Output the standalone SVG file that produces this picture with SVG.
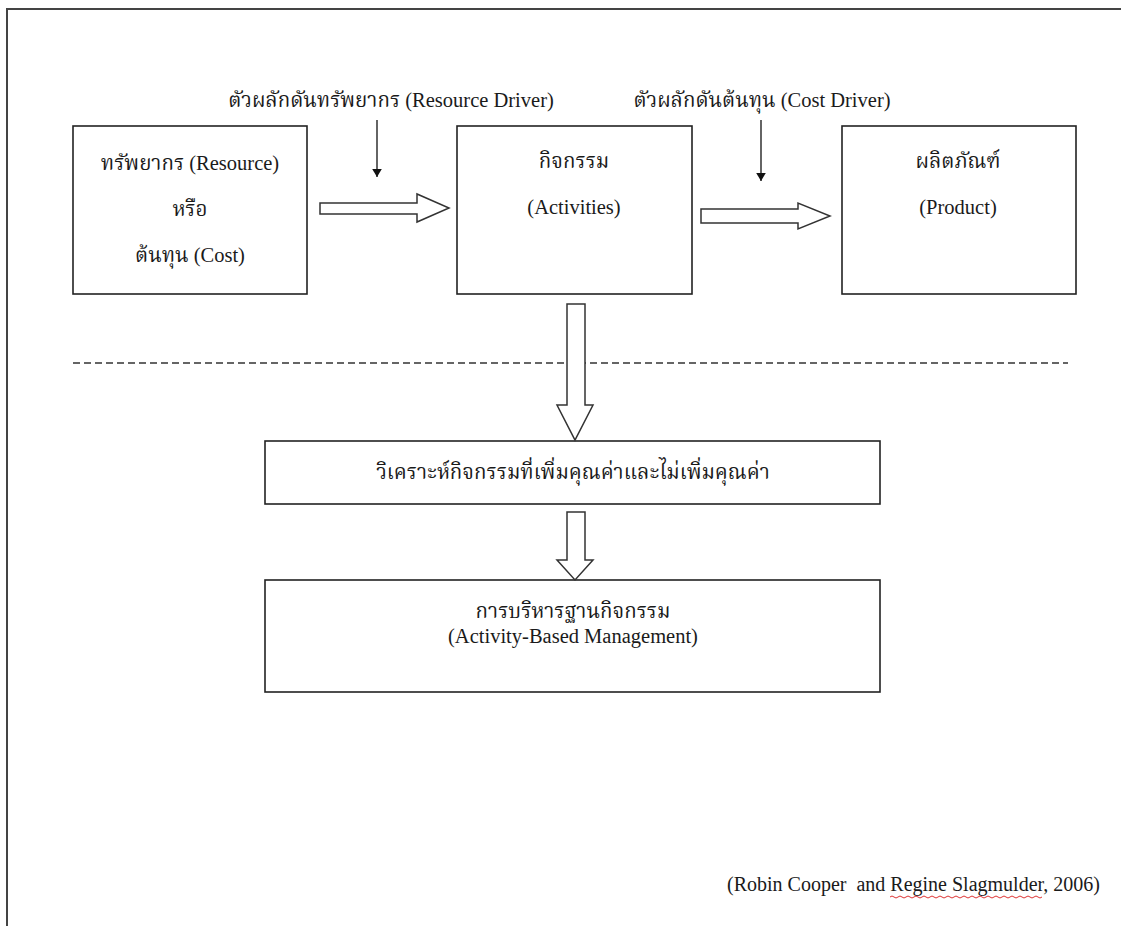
<svg xmlns="http://www.w3.org/2000/svg" width="1121" height="926" viewBox="0 0 1121 926">
  <style>
    .frame { fill: none; stroke: #444; stroke-width: 2; }
    .box { fill: #fff; stroke: #222; stroke-width: 1.6; }
    .block { fill: #fff; stroke: #333; stroke-width: 1.5; stroke-linejoin: miter; }
    .thin { stroke: #111; stroke-width: 1.3; fill: none; }
    .dash { stroke: #333; stroke-width: 1.6; stroke-dasharray: 7 4; fill: none; }
    text { font-family: "Liberation Serif", "Noto Serif Thai", "Noto Sans Thai", "Tlwg Typo", "Garuda", serif; fill: #1a1a1a; text-anchor: middle; font-size: 20.5px; }
    .cite { font-size: 20px; text-anchor: start; }
  </style>
  <defs>
    <marker id="head" viewBox="0 0 10 12" refX="10" refY="6" markerWidth="8" markerHeight="10" markerUnits="userSpaceOnUse" orient="auto">
      <path d="M0,0 L10,6 L0,12 Z" fill="#111"/>
    </marker>
  </defs>

  <!-- page frame (top and left edges only) -->
  <path class="frame" d="M7,926 V9 H1121"/>

  <!-- driver labels -->
  <g id="resource-driver">
    <text x="391" y="107">ตัวผลักดันทรัพยากร (Resource Driver)</text>
  </g>
  <g id="cost-driver">
    <text x="762" y="107">ตัวผลักดันต้นทุน (Cost Driver)</text>
  </g>

  <g id="resource">
    <rect class="box" x="73" y="126" width="234" height="168"/>
    <text x="190" y="170">ทรัพยากร (Resource)</text>
    <text x="190" y="216">หรือ</text>
    <text x="190" y="262">ต้นทุน (Cost)</text>
  </g>

  <g id="activities">
    <rect class="box" x="457" y="126" width="235" height="168"/>
    <text x="574" y="168">กิจกรรม</text>
    <text x="574" y="214">(Activities)</text>
  </g>

  <g id="product">
    <rect class="box" x="842" y="126" width="234" height="168"/>
    <text x="958" y="168">ผลิตภัณฑ์</text>
    <text x="958" y="214">(Product)</text>
  </g>

  <g id="analysis">
    <rect class="box" x="265" y="441" width="615" height="63"/>
    <text x="573" y="479">วิเคราะห์กิจกรรมที่เพิ่มคุณค่าและไม่เพิ่มคุณค่า</text>
  </g>

  <g id="abm">
    <rect class="box" x="265" y="580" width="615" height="112"/>
    <text x="573" y="618">การบริหารฐานกิจกรรม</text>
    <text x="573" y="643">(Activity-Based Management)</text>
  </g>

  <g id="citation">
    <text class="cite" x="727" y="891">(Robin Cooper&#160; and Regine Slagmulder, 2006)</text>
    <!-- spell-check squiggle under the author name -->
    <path d="M890,897 q2,-2 4,0 t4,0 t4,0 t4,0 t4,0 t4,0 t4,0 t4,0 t4,0 t4,0 t4,0 t4,0 t4,0 t4,0 t4,0 t4,0 t4,0 t4,0 t4,0 t4,0 t4,0 t4,0 t4,0 t4,0 t4,0 t4,0 t4,0 t4,0 t4,0 t4,0 t4,0 t4,0 t4,0 t4,0 t4,0 t4,0 t4,0 t4,0" fill="none" stroke="#d33" stroke-width="1"/>
  </g>

  <!-- dashed separator -->
  <line class="dash" x1="73" y1="363" x2="1068" y2="363"/>

  <g id="connectors">
    <!-- driver arrows -->
    <line class="thin" x1="377" y1="120" x2="377" y2="177" marker-end="url(#head)"/>
    <line class="thin" x1="761" y1="120" x2="761" y2="181" marker-end="url(#head)"/>
    <!-- block arrows -->
    <path class="block" d="M320,203 H417 V194 L449,208 L417,222 V214 H320 Z"/>
    <path class="block" d="M701,209 H798 V203 L830,216 L798,229 V223 H701 Z"/>
    <path class="block" d="M567,304 H585 V405 H593 L575,440 L557,405 H567 Z"/>
    <path class="block" d="M567,512 H585 V560 H593 L575,580 L557,560 H567 Z"/>
  </g>
</svg>
